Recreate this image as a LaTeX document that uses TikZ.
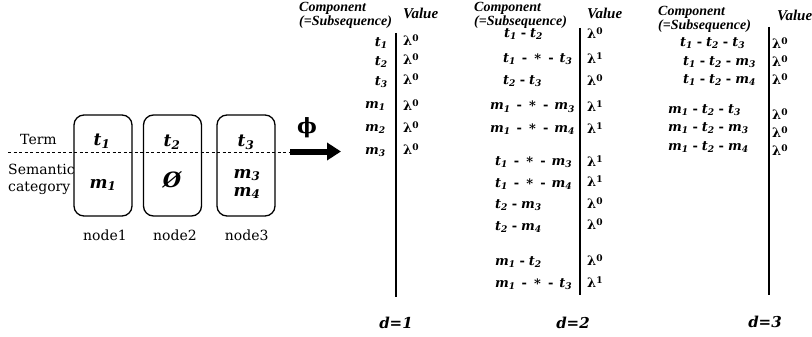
\documentclass[tikz,border=0pt]{standalone}
\usepackage{fontspec}
\setmainfont{DejaVu Serif}
\newfontfamily\hdfont{Liberation Serif}
\usetikzlibrary{arrows.meta}
\newcommand\sv[2]{\textit{#1}\textsubscript{\textit{#2}}}
\newcommand\lam[1]{λ\textsuperscript{#1}}
\newcommand\dsh{\hspace{0.3em}-\hspace{0.3em}}
\newcommand\dst{\hspace{0.45em}-\hspace{0.55em}\raisebox{-0.15ex}{*}\hspace{0.55em}-\hspace{0.45em}}
\tikzset{
  lbl/.style={font=\fontsize{14}{14}\selectfont, inner sep=0},
  bsym/.style={font=\fontsize{17}{17}\selectfont\bfseries, inner sep=0},
  ent/.style={font=\fontsize{13}{13}\selectfont\bfseries, inner sep=0},
  val/.style={font=\fontsize{13}{13}\selectfont\bfseries, inner sep=0, anchor=west},
  hdr/.style={font=\hdfont\bfseries\itshape\fontsize{14}{10}\selectfont, inner sep=0, anchor=north west, align=left},
  vhdr/.style={font=\hdfont\bfseries\itshape\fontsize{15}{15}\selectfont, inner sep=0, anchor=west},
  dlbl/.style={font=\fontsize{15}{15}\selectfont\bfseries\itshape, inner sep=0},
  nbox/.style={draw, rounded corners=10pt, line width=1.3pt, minimum width=58pt, minimum height=101pt, inner sep=0},
  vline/.style={line width=1.4pt},
}
\begin{document}
\begin{tikzpicture}[x=1pt,y=-1pt]
\useasboundingbox (0,0) rectangle (812,337);
% left part
\node[nbox] (b1) at (103,165.5) {};
\node[nbox] (b2) at (172.5,165.5) {};
\node[nbox] (b3) at (246,165.5) {};
\coordinate (dl0) at (8,152.5);
\coordinate (dl1) at (289,152.5);
\draw[line width=1.1pt, dash pattern=on 3pt off 2.5pt] (dl0) -- (dl1);
\node[lbl] (term) at (38.5,139.5) {Term};
\node[lbl, anchor=west] (sem) at (8,169) {Semantic};
\node[lbl, anchor=west] (cat) at (8,188) {category};
\node[bsym] (bt1) at (102,141) {\sv{t}{1}};
\node[bsym] (bt2) at (172,142) {\sv{t}{2}};
\node[bsym] (bt3) at (246,142) {\sv{t}{3}};
\node[bsym] (bm1) at (103,185) {\sv{m}{1}};
\node[bsym, font=\fontsize{21}{21}\selectfont\bfseries\itshape] (be) at (172,180) {Ø};
\node[bsym] (bm3) at (247,175) {\sv{m}{3}};
\node[bsym] (bm4) at (247,193) {\sv{m}{4}};
\node[lbl] (n1) at (105,235) {node1};
\node[lbl] (n2) at (175,235) {node2};
\node[lbl] (n3) at (246.7,235) {node3};
% arrow
\coordinate (a0) at (290,151.5);
\coordinate (a1) at (341,151.5);
\draw[line width=6pt, -{Triangle[length=14pt,width=17pt]}] (a0) -- (a1);
\node[font=\fontsize{21}{21}\selectfont\bfseries, inner sep=0] (phi) at (307,128) {ϕ};
% d=1 table
\node[hdr] (h1) at (299,2) {Component\\(=Subsequence)};
\node[vhdr] (h1v) at (403,13) {Value};
\coordinate (v1t) at (396,33);
\coordinate (v1b) at (396,297);
\draw[vline] (v1t) -- (v1b);
\node[ent, anchor=east] (e11) at (388,43) {\sv{t}{1}};
\node[ent, anchor=east] (e12) at (388,62) {\sv{t}{2}};
\node[ent, anchor=east] (e13) at (388,82) {\sv{t}{3}};
\node[ent, anchor=east] (e14) at (386,106) {\sv{m}{1}};
\node[ent, anchor=east] (e15) at (386,129) {\sv{m}{2}};
\node[ent, anchor=east] (e16) at (386,152) {\sv{m}{3}};
\node[val] (w11) at (403,40) {\lam{0}};
\node[val] (w12) at (403,59) {\lam{0}};
\node[val] (w13) at (403,79) {\lam{0}};
\node[val] (w14) at (403,105) {\lam{0}};
\node[val] (w15) at (403,127) {\lam{0}};
\node[val] (w16) at (403,149) {\lam{0}};
\node[dlbl] (d1) at (396,323) {d=1};
% d=2 table
\node[hdr] (h2) at (474,2) {Component\\(=Subsequence)};
\node[vhdr] (h2v) at (587,13) {Value};
\coordinate (v2t) at (580,28);
\coordinate (v2b) at (580,295);
\draw[vline] (v2t) -- (v2b);
\node[ent, anchor=west] (e21) at (504,34) {\sv{t}{1}\dsh\sv{t}{2}};
\node[ent, anchor=west] (e22) at (503,59) {\sv{t}{1}\dst\sv{t}{3}};
\node[ent, anchor=west] (e23) at (503,81) {\sv{t}{2}\dsh\sv{t}{3}};
\node[ent, anchor=west] (e24) at (490,107) {\sv{m}{1}\dst\sv{m}{3}};
\node[ent, anchor=west] (e25) at (490,129) {\sv{m}{1}\dst\sv{m}{4}};
\node[ent, anchor=west] (e26) at (495,162) {\sv{t}{1}\dst\sv{m}{3}};
\node[ent, anchor=west] (e27) at (495,184) {\sv{t}{1}\dst\sv{m}{4}};
\node[ent, anchor=west] (e28) at (495,205) {\sv{t}{2}\dsh\sv{m}{3}};
\node[ent, anchor=west] (e29) at (495,227) {\sv{t}{2}\dsh\sv{m}{4}};
\node[ent, anchor=west] (e2a) at (495,262) {\sv{m}{1}\dsh\sv{t}{2}};
\node[ent, anchor=west] (e2b) at (495,284) {\sv{m}{1}\dst\sv{t}{3}};
\node[val] (w21) at (587,33) {\lam{0}};
\node[val] (w22) at (587,58) {\lam{1}};
\node[val] (w23) at (587,80) {\lam{0}};
\node[val] (w24) at (587,106) {\lam{1}};
\node[val] (w25) at (587,128) {\lam{1}};
\node[val] (w26) at (587,161) {\lam{1}};
\node[val] (w27) at (587,181) {\lam{1}};
\node[val] (w28) at (587,203) {\lam{0}};
\node[val] (w29) at (587,224) {\lam{0}};
\node[val] (w2a) at (587,260) {\lam{0}};
\node[val] (w2b) at (587,282) {\lam{1}};
\node[dlbl] (d2) at (573,323) {d=2};
% d=3 table
\node[hdr] (h3) at (658,6) {Component\\(=Subsequence)};
\node[vhdr] (h3v) at (777,15) {Value};
\coordinate (v3t) at (769,27);
\coordinate (v3b) at (769,295);
\draw[vline] (v3t) -- (v3b);
\node[ent, anchor=west] (e31) at (680,43) {\sv{t}{1}\dsh\sv{t}{2}\dsh\sv{t}{3}};
\node[ent, anchor=west] (e32) at (683,62) {\sv{t}{1}\dsh\sv{t}{2}\dsh\sv{m}{3}};
\node[ent, anchor=west] (e33) at (683,80) {\sv{t}{1}\dsh\sv{t}{2}\dsh\sv{m}{4}};
\node[ent, anchor=west] (e34) at (668,110) {\sv{m}{1}\dsh\sv{t}{2}\dsh\sv{t}{3}};
\node[ent, anchor=west] (e35) at (668,128) {\sv{m}{1}\dsh\sv{t}{2}\dsh\sv{m}{3}};
\node[ent, anchor=west] (e36) at (668,147) {\sv{m}{1}\dsh\sv{t}{2}\dsh\sv{m}{4}};
\node[val] (w31) at (772,43) {\lam{0}};
\node[val] (w32) at (772,61) {\lam{0}};
\node[val] (w33) at (772,79) {\lam{0}};
\node[val] (w34) at (772,114) {\lam{0}};
\node[val] (w35) at (772,132) {\lam{0}};
\node[val] (w36) at (772,150) {\lam{0}};
\node[dlbl] (d3) at (765,322) {d=3};
\end{tikzpicture}
\end{document}
